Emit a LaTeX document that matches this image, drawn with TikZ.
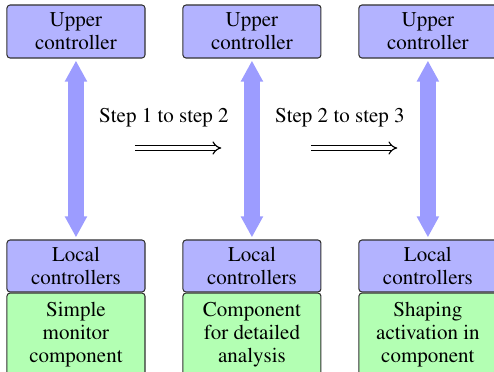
\documentclass[tikz,border=0pt]{standalone}
\usepackage[T1]{fontenc}
\usepackage{mathptmx}
\usetikzlibrary{arrows.meta,positioning,calc}
\definecolor{ctrlcolor}{RGB}{179,179,255}
\definecolor{compcolor}{RGB}{179,255,179}
\definecolor{linkcolor}{RGB}{156,156,255}
\definecolor{boxedgecolor}{RGB}{50,50,50}
\newcommand{\boxtext}{\rmfamily\fontsize{10}{11}\selectfont}
\tikzstyle{ctrlbox}=[draw=boxedgecolor, fill=ctrlcolor, rounded corners=1.5pt, minimum width=2.31cm, align=center, inner sep=0pt, line width=0.5pt, font=\boxtext]
\tikzstyle{upper ctrl}=[ctrlbox, minimum height=0.887cm]
\tikzstyle{local ctrl}=[ctrlbox, minimum height=0.87cm]
\tikzstyle{comp box}=[ctrlbox, fill=compcolor, minimum height=1.405cm]
\tikzstyle{ctrllink}=[{Triangle[width=10pt,length=10pt]}-{Triangle[width=10pt,length=10pt]}, line width=7.6pt, linkcolor, shorten >=1pt, shorten <=1pt]
\tikzstyle{stepedge}=[-{Implies[length=6.5pt,width=6pt]}, double, double distance=1.6pt, line width=0.55pt]

\begin{document}
\begin{tikzpicture}
\def\colsep{2.944cm}
\def\firstcol{1.271cm}
\def\upperY{-0.527cm}
\def\localY{-4.450cm}

    \useasboundingbox (0,0) rectangle (8.265,-6.207);

    \foreach \name / \task in {1/{Simple\\monitor\\component}, 2/{Component\\for detailed\\analysis}, 3/{Shaping\\activation in\\component}} {
        \node[upper ctrl] (upper-\name) at (\firstcol+\colsep*\name-\colsep, \upperY) {Upper\\controller};
        \node[local ctrl] (local-\name) at (\firstcol+\colsep*\name-\colsep, \localY) {Local\\controllers};
        \node[comp box, below=0pt of local-\name] (comp-\name) {\task};
        \draw[ctrllink] (upper-\name) -- (local-\name);
    }

    \foreach \src / \dst in {1/2, 2/3} {
        \node[font=\boxtext] (step-\src) at ($(upper-\src)!0.5!(upper-\dst) + (0,-1.447)$) {Step \src\ to step \dst};
        \coordinate (step-\src-a) at ($(step-\src) + (-0.485,-0.502)$);
        \coordinate (step-\src-b) at ($(step-\src) + (0.960,-0.502)$);
        \draw[stepedge] (step-\src-a) -- (step-\src-b);
    }
\end{tikzpicture}
\end{document}
